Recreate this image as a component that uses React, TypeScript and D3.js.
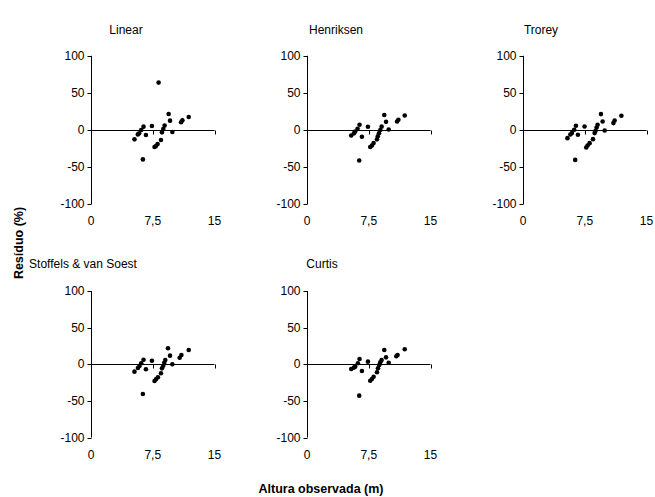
import React from 'react';
import * as d3 from 'd3';

// [observed height (m), residual (%)]
type Pt = [number, number];

const linear: Pt[] = [
  [5.28, -12.6], [5.69, -5.9], [5.85, -4.5], [6.1, 0], [6.3, -39.6], [6.38, 4.5],
  [6.67, -6.8], [7.4, 5.4], [7.72, -23], [7.89, -21.6], [8.09, -18.9], [8.21, 63.9],
  [8.5, -13.5], [8.62, -3.2], [8.78, 1.4], [8.94, 5.9], [9.43, 21.6], [9.6, 12.6],
  [9.88, -2.7], [10.94, 10.4], [11.1, 13.1], [11.87, 17.6],
];

const henriksen: Pt[] = [
  [5.37, -7.4], [5.7, -4.5], [5.85, -2], [6.14, 1.6], [6.34, -41.2], [6.38, 7],
  [6.67, -9], [7.4, 4.3], [7.68, -23], [7.89, -20.8], [8.09, -17.6], [8.5, -12.6],
  [8.6, -8.5], [8.74, -4.5], [8.9, 0], [9.06, 4.5], [9.39, 20.3], [9.6, 11],
  [9.92, 0.7], [10.94, 11.5], [11.1, 13.8], [11.87, 19.6],
];

const trorey: Pt[] = [
  [5.4, -11], [5.75, -6], [5.94, -4.2], [6.22, 0.3], [6.34, -40.3], [6.43, 5.7],
  [6.67, -6.5], [7.48, 4.7], [7.68, -23.6], [7.84, -20.9], [8.09, -17.7], [8.5, -12.3],
  [8.7, -4.2], [8.82, -1.1], [8.94, 3.4], [9.06, 7], [9.47, 21.4], [9.67, 11.5],
  [9.92, -0.7], [10.98, 9.3], [11.13, 12.8], [11.95, 19.2],
];

const stoffels: Pt[] = [
  [5.28, -10], [5.7, -5], [5.89, -2.3], [6.1, 1.4], [6.3, -40.5], [6.38, 6.3],
  [6.67, -6.8], [7.4, 4.9], [7.72, -22.8], [7.89, -20.5], [8.13, -17.7], [8.5, -12.3],
  [8.62, -5.5], [8.78, -1.9], [8.9, 2.2], [9.02, 5.9], [9.35, 21.8], [9.6, 11.8],
  [9.88, 0], [10.77, 9], [10.98, 12.7], [11.87, 19.5],
];

const curtis: Pt[] = [
  [5.37, -6.4], [5.7, -4.5], [5.85, -3.2], [6.18, 1.4], [6.34, -42.8], [6.38, 7.2],
  [6.67, -9.1], [7.4, 3.6], [7.68, -22.4], [7.89, -20], [8.09, -16.9], [8.5, -10.9],
  [8.62, -5.5], [8.78, -1], [8.9, 2.7], [9.06, 5.9], [9.39, 19.5], [9.6, 9.5],
  [9.92, 2.2], [10.85, 10.9], [11.0, 12.7], [11.87, 20.5],
];

const models = [
  { name: 'Linear', points: linear },
  { name: 'Henriksen', points: henriksen },
  { name: 'Trorey', points: trorey },
  { name: 'Stoffels & van Soest', points: stoffels },
  { name: 'Curtis', points: curtis },
];

const yTicks = [-100, -50, 0, 50, 100];
const xTicks = [0, 7.5, 15];
const xTickLabel = (v: number) => String(v).replace('.', ',');

const W = 655;
const H = 497;
const FONT = '"Liberation Sans", Arial, sans-serif';
const FS = 12;

// layout of the 3 + 2 grid
const colLeft = [91, 307, 523];
const plotW = 123.5;
const rows = [
  { top: 55.8, bottom: 204.2, titleY: 30 },
  { top: 291, bottom: 437.6, titleY: 264 },
];
const titleX = [126, 336, 541, 83, 322];

const Panel = ({ name, points, idx }: { name: string; points: Pt[]; idx: number }) => {
  const row = rows[idx < 3 ? 0 : 1];
  const left = colLeft[idx % 3];
  const x = d3.scaleLinear().domain([0, 15]).range([left, left + plotW]);
  const y = d3.scaleLinear().domain([-100, 100]).range([row.bottom, row.top]);
  const y0 = Math.round(y(0)) + 0.5;
  const ax = Math.round(left) + 0.5;

  return (
    <g>
      <text x={titleX[idx]} y={row.titleY} textAnchor="middle" dominantBaseline="central" fontSize={FS}>
        {name}
      </text>

      {/* y axis */}
      <line x1={ax} x2={ax} y1={y(100)} y2={y(-100)} stroke="#000" />
      {yTicks.map(t => (
        <g key={t}>
          <line x1={ax - 4} x2={ax} y1={Math.round(y(t)) + 0.5} y2={Math.round(y(t)) + 0.5} stroke="#000" />
          <text x={ax - 7} y={y(t)} textAnchor="end" dominantBaseline="central" fontSize={FS}>
            {t}
          </text>
        </g>
      ))}

      {/* x axis crossing at 0, labels at the bottom */}
      <line x1={ax} x2={x(15)} y1={y0} y2={y0} stroke="#000" />
      {xTicks.map(t => (
        <g key={t}>
          {t > 0 && (
            <line x1={Math.round(x(t)) + 0.5} x2={Math.round(x(t)) + 0.5} y1={y0} y2={y0 + 4} stroke="#000" />
          )}
          <text x={x(t)} y={row.bottom + 17} textAnchor="middle" dominantBaseline="central" fontSize={FS}>
            {xTickLabel(t)}
          </text>
        </g>
      ))}

      {points.map((p, i) => (
        <circle key={i} cx={x(p[0])} cy={y(p[1])} r={2.3} fill="#000" />
      ))}
    </g>
  );
};

export default function App() {
  return (
    <svg
      width={W}
      height={H}
      viewBox={`0 0 ${W} ${H}`}
      style={{ position: 'absolute', left: 0, top: 0, background: '#fff' }}
      fontFamily={FONT}
    >
      {models.map((m, i) => (
        <Panel key={m.name} name={m.name} points={m.points} idx={i} />
      ))}
      <text
        transform={`translate(19,243) rotate(-90)`}
        textAnchor="middle"
        dominantBaseline="central"
        fontSize={12.5}
        fontWeight="bold"
      >
        Resíduo (%)
      </text>
      <text x={321} y={489} textAnchor="middle" dominantBaseline="central" fontSize={12.5} fontWeight="bold">
        Altura observada (m)
      </text>
    </svg>
  );
}
